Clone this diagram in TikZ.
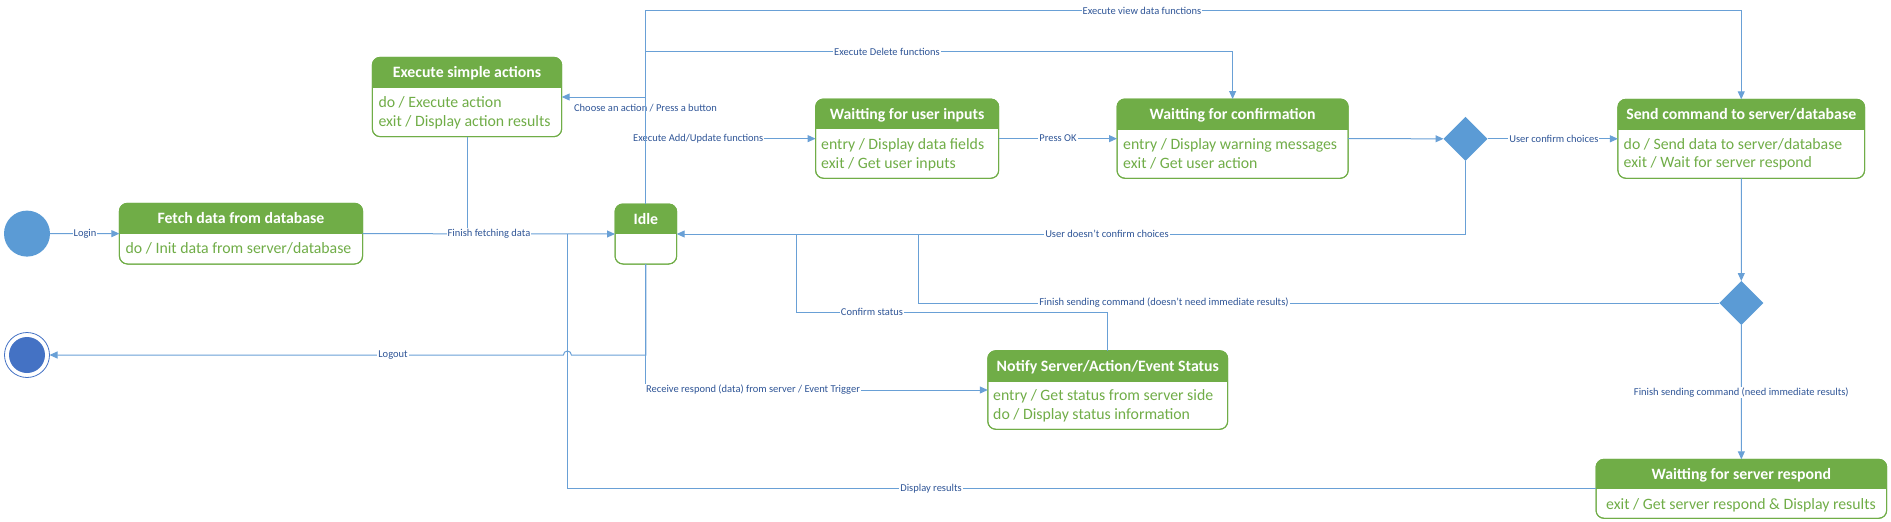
\documentclass[tikz,border=0pt]{standalone}
\usepackage{fontspec}
\setmainfont{Carlito}
\usetikzlibrary{arrows.meta,shapes.geometric,calc}
\definecolor{hdr}{RGB}{112,173,71}
\definecolor{bodyc}{RGB}{112,173,71}
\definecolor{edge}{RGB}{91,155,213}
\definecolor{linec}{RGB}{105,160,214}
\definecolor{lblc}{RGB}{47,85,151}
\definecolor{endc}{RGB}{68,114,196}
\tikzset{
 conn/.style={draw=linec, line width=1pt},
 arr/.style={conn, -{Triangle[length=8pt,width=7pt]}},
 lbl/.style={font=\fontsize{10.5}{12}\selectfont, text=lblc, fill=white, inner sep=1pt},
 lblnf/.style={font=\fontsize{10.5}{12}\selectfont, text=lblc, inner sep=1pt},
 boxn/.style={draw=hdr, line width=1pt, rounded corners=8pt, fill=white, inner sep=0pt, outer sep=0pt},
 ttl/.style={font=\fontsize{15.8}{18}\bfseries\selectfont, text=white, inner sep=0pt, anchor=base},
 btxt/.style={font=\fontsize{15.8}{18}\selectfont, text=bodyc, inner sep=0pt, anchor=base west},
 dia/.style={diamond, fill=edge, inner sep=0pt, outer sep=0pt, minimum width=44pt, minimum height=44pt, aspect=1},
}
\newcommand\stbox[7]{%
 \node[boxn, minimum width={#4-#2}, minimum height={#5-#3}] (#1) at ({(#2+#4)/2},{(#3+#5)/2}) {};
 \begin{scope}
  \clip[rounded corners=8pt] (#1.north west) rectangle (#1.south east);
  \fill[hdr] (#1.north west) rectangle (#1.east |- 0,#6);
 \end{scope}
 \draw[draw=hdr, line width=1pt, rounded corners=8pt] (#1.north west) rectangle (#1.south east);
 \node[ttl] (#1-t) at ({(#2+#4)/2},{(#3+#6)/2+5.3}) {#7};
}
\begin{document}
\begin{tikzpicture}[x=1pt,y=-1pt]
\useasboundingbox (0,0) rectangle (1891,522);
% states
\stbox{fetch}{119.4}{203.3}{362.6}{264}{234}{Fetch data from database}
\node[btxt] (fetch-b1) at (125.5,253.3) {do / Init data from server/database};
\stbox{exec}{372.3}{57.3}{561.7}{136.7}{87.7}{Execute simple actions}
\node[btxt] (exec-b1) at (378.3,107.3) {do / Execute action};
\node[btxt] (exec-b2) at (378.3,126) {exit / Display action results};
\stbox{idle}{615}{204}{676.7}{264}{234}{Idle}
\stbox{inputs}{815.6}{99}{998.7}{178.3}{129.3}{Waitting for user inputs}
\node[btxt] (inputs-b1) at (821,149.3) {entry / Display data fields};
\node[btxt] (inputs-b2) at (821,168.3) {exit / Get user inputs};
\stbox{conf}{1117}{99}{1348.2}{178.3}{130}{Waitting for confirmation}
\node[btxt] (conf-b1) at (1123,149.3) {entry / Display warning messages};
\node[btxt] (conf-b2) at (1123,168.3) {exit / Get user action};
\stbox{send}{1617.9}{99.3}{1864.6}{178.3}{130}{Send command to server/database}
\node[btxt] (send-b1) at (1623.5,149.3) {do / Send data to server/database};
\node[btxt] (send-b2) at (1623.5,167.7) {exit / Wait for server respond};
\stbox{notify}{987.8}{350.7}{1227.7}{429.3}{381.7}{Notify Server/Action/Event Status}
\node[btxt] (notify-b1) at (993,400.7) {entry / Get status from server side};
\node[btxt] (notify-b2) at (993,419.3) {do / Display status information};
\stbox{server}{1596}{459.3}{1886.7}{518.3}{489.3}{Waitting for server respond}
\node[btxt] (server-b1) at (1606,509.3) {exit / Get server respond \& Display results};
% pseudo states
\node[circle, fill=edge, minimum size=46pt, inner sep=0pt, outer sep=0pt] (start) at (27,233.6) {};
\node[circle, draw=endc, line width=0.8pt, minimum size=45pt, inner sep=0pt, outer sep=0pt] (end) at (27,355) {};
\node[circle, fill=endc, minimum size=36pt, inner sep=0pt] (endin) at (end.center) {};
\node[dia] (d1) at (1465.5,138.8) {};
\node[dia] (d2) at (1741.3,303) {};
% connectors
\draw[arr] (start.east) -- (fetch.west);
\draw[arr] (fetch.east) -- (idle.west);
\draw[conn] (exec.south) -- (exec.south |- idle.west);
\draw[arr] (inputs.east) -- (conf.west);
\draw[arr] (conf.east) -- (d1.west);
\draw[arr] (d1.east) -- (send.west);
\draw[arr] (d1.south) |- (idle.east);
\draw[arr] (send.south) -- (d2.north);
\coordinate (jA) at (918.5,0 |- idle.east);
\draw[conn] (d2.west) -| (jA);
\draw[arr] (d2.south) -- (server.north);
\coordinate (jB) at (567.4,0 |- fetch.east);
\draw[conn] (server.west) -| (jB);
\coordinate (jC) at (796.3,0 |- idle.east);
\draw[conn] (notify.north) -- (notify.north |- 0,312.3) -| (jC);
\draw[arr] (idle.south) -- (idle.south |- 0,355) -- (571.4,355) arc[start angle=0, end angle=-180, radius=4] -- (end.east);
\draw[arr] (idle.south) |- (notify.west);
\coordinate (tDel) at (idle.north |- 0,51.7);
\coordinate (tCh) at (idle.north |- exec.east);
\coordinate (tAdd) at (idle.north |- inputs.west);
\draw[arr] (tDel) -| (conf.north);
\draw[arr] (tCh) -- (exec.east);
\draw[arr] (tAdd) -- (inputs.west);
% labels
\node[lbl] (l1) at (85,233.6) {Login};
\node[lbl] (l2) at (489,233.6) {Finish fetching data};
\node[lbl] (l3) at (393,355) {Logout};
\node[lblnf] (l4) at (645.5,107.7) {Choose an action / Press a button};
\node[lbl] (l5) at (698.3,138.6) {Execute Add/Update functions};
\node[lbl] (l6) at (1058,138.6) {Press OK};
\node[lbl] (l7) at (1553.8,138.8) {User confirm choices};
\node[lbl] (l8) at (1107,234) {User doesn't confirm choices};
\node[lbl] (l9) at (1164,303) {Finish sending command (doesn't need immediate results)};
\node[lbl] (l10) at (872,312.3) {Confirm status};
\node[lbl] (l11) at (753,390) {Receive respond (data) from server / Event Trigger};
\node[lbl] (l12) at (1741.3,392.3) {Finish sending command (need immediate results)};
\node[lbl] (l13) at (931,488.8) {Display results};
\node[lbl] (l14) at (887,51.7) {Execute Delete functions};
% trunk: view data functions
\draw[arr] (idle.north) -- (idle.north |- 0,10.7) -| (send.north);
\node[lbl] (l15) at (1142,10.7) {Execute view data functions};
\end{tikzpicture}
\end{document}
